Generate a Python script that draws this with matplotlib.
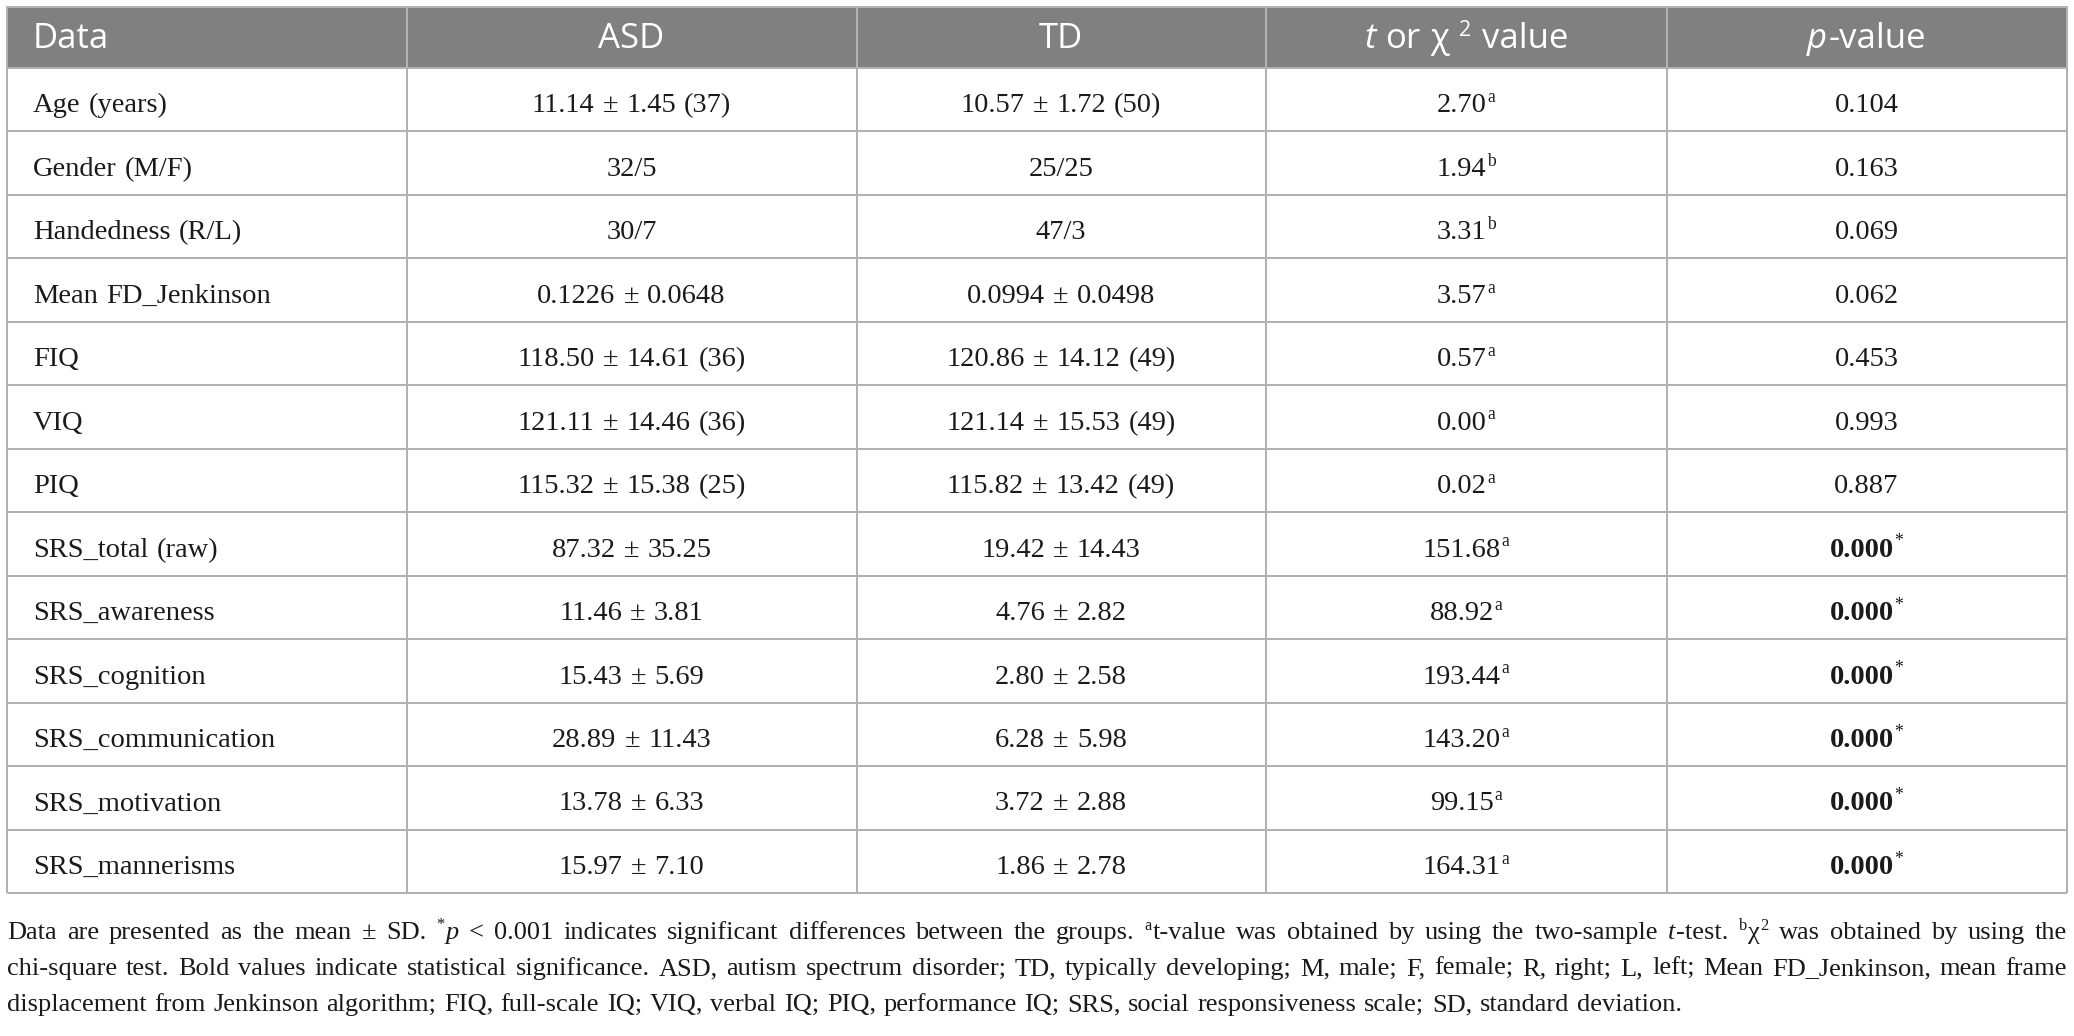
import re
import matplotlib
matplotlib.use("Agg")
from matplotlib import pyplot as plt
from matplotlib.patches import Rectangle

W, H = 2074, 1036
DPI = 100

# table content
header = ["Data", "ASD", "TD", "{i:t} or χ {s:2} value", "{i:p}-value"]
row_labels = ["Age (years)", "Gender (M/F)", "Handedness (R/L)", "Mean FD_Jenkinson",
              "FIQ", "VIQ", "PIQ", "SRS_total (raw)", "SRS_awareness", "SRS_cognition",
              "SRS_communication", "SRS_motivation", "SRS_mannerisms"]
asd_vals = ["11.14 ± 1.45 (37)", "32/5", "30/7", "0.1226 ± 0.0648", "118.50 ± 14.61 (36)",
            "121.11 ± 14.46 (36)", "115.32 ± 15.38 (25)", "87.32 ± 35.25", "11.46 ± 3.81",
            "15.43 ± 5.69", "28.89 ± 11.43", "13.78 ± 6.33", "15.97 ± 7.10"]
td_vals = ["10.57 ± 1.72 (50)", "25/25", "47/3", "0.0994 ± 0.0498", "120.86 ± 14.12 (49)",
           "121.14 ± 15.53 (49)", "115.82 ± 13.42 (49)", "19.42 ± 14.43", "4.76 ± 2.82",
           "2.80 ± 2.58", "6.28 ± 5.98", "3.72 ± 2.88", "1.86 ± 2.78"]
stat_vals = ["2.70", "1.94", "3.31", "3.57", "0.57", "0.00", "0.02", "151.68", "88.92",
             "193.44", "143.20", "99.15", "164.31"]
stat_test = ["a", "b", "b", "a", "a", "a", "a", "a", "a", "a", "a", "a", "a"]
p_vals = ["0.104", "0.163", "0.069", "0.062", "0.453", "0.993", "0.887", "0.000", "0.000",
          "0.000", "0.000", "0.000", "0.000"]
significant = [False] * 7 + [True] * 6

notes = [
    "Data are presented as the mean ± SD. {s:*}{i:p} < 0.001 indicates significant differences "
    "between the groups. {s:a}t-value was obtained by using the two-sample {i:t}-test. "
    "{s:b}χ{s:2} was obtained by using the",
    "chi-square test. Bold values indicate statistical significance. ASD, autism spectrum "
    "disorder; TD, typically developing; M, male; F, female; R, right; L, left; Mean "
    "FD_Jenkinson, mean frame",
    "displacement from Jenkinson algorithm; FIQ, full-scale IQ; VIQ, verbal IQ; PIQ, "
    "performance IQ; SRS, social responsiveness scale; SD, standard deviation.",
]

# geometry (pixels)
col_edges = [7, 407, 857, 1266, 1667, 2067]
head_top, head_bot, tab_bot = 7, 68, 893
row_h = (tab_bot - head_bot) / len(row_labels)
note_base = [939, 975, 1011]

SERIF = "Liberation Serif"
SANS = "Open Sans"
body = dict(family=SERIF, size=20.5, color="#1a1a1a")
head = dict(family=SANS, size=25, color="white")
foot = dict(family=SERIF, size=19, color="#1a1a1a")

fig = plt.figure(figsize=(W / DPI, H / DPI), dpi=DPI)
ax = fig.add_axes([0, 0, 1, 1])
ax.set_xlim(0, W)
ax.set_ylim(H, 0)
ax.axis("off")
renderer = fig.canvas.get_renderer()

_cache = {}


def measure(s, p):
    key = (s, tuple(sorted(p.items())))
    if key not in _cache:
        t = ax.text(0, 0, s, fontfamily=p["family"], fontsize=p["size"],
                    fontstyle=p.get("style", "normal"), fontweight=p.get("weight", "normal"))
        _cache[key] = t.get_window_extent(renderer).width
        t.remove()
    return _cache[key]


def segments(word, base):
    out = []
    for m in re.finditer(r"\{(\w):([^}]*)\}|([^{]+)", word):
        p = dict(base)
        rise = 0
        if m.group(3) is not None:
            txt = m.group(3)
        else:
            kind, txt = m.group(1), m.group(2)
            if kind == "i":
                p["style"] = "italic"
            elif kind == "b":
                p["weight"] = "bold"
            elif kind == "s":
                rise = base["size"] * 0.36 * DPI / 72
                p["size"] = base["size"] * 0.62
                p.pop("weight", None)
        out.append((txt, p, rise, measure(txt, p)))
    return out


def space_w(p):
    return measure("n n", p) - measure("nn", p)


def draw_words(words, x, y, sp):
    for segs in words:
        for txt, p, rise, w in segs:
            ax.text(x, y - rise, txt, fontfamily=p["family"], fontsize=p["size"],
                    fontstyle=p.get("style", "normal"), fontweight=p.get("weight", "normal"),
                    color=p["color"], ha="left", va="baseline")
            x += w + 1
        x += sp


def word_w(segs):
    return sum(s[3] + 1 for s in segs)


def put(s, x0, x1, y, base, align="center"):
    words = [segments(w, base) for w in s.split(" ")]
    sp = space_w(base)
    total = sum(word_w(w) for w in words) + sp * (len(words) - 1)
    if align == "center":
        x = (x0 + x1) / 2 - total / 2
    else:
        x = x0
    draw_words(words, x, y, sp)


def put_justified(s, x0, x1, y, base):
    words = [segments(w, base) for w in s.split(" ")]
    sp = (x1 - x0 - sum(word_w(w) for w in words)) / (len(words) - 1)
    draw_words(words, x0, y, sp)


# header band and grid
ax.add_patch(Rectangle((col_edges[0], head_top), col_edges[-1] - col_edges[0],
                       head_bot - head_top, facecolor="#808080", edgecolor="none"))
line_c = "#b2b2b2"
lw = 2 * 72 / DPI
for k in range(len(row_labels) + 1):
    yy = head_bot + k * row_h
    ax.plot([col_edges[0], col_edges[-1]], [yy, yy], color=line_c, lw=lw, solid_capstyle="butt")
ax.plot([col_edges[0], col_edges[-1]], [head_top, head_top], color=line_c, lw=lw)
for xx in col_edges:
    ax.plot([xx, xx], [head_top, tab_bot], color=line_c, lw=lw, solid_capstyle="butt")

# header text
put(header[0], col_edges[0] + 26, col_edges[1], 48, head, align="left")
for j in range(1, 5):
    put(header[j], col_edges[j], col_edges[j + 1], 48, head)

# body
for i in range(len(row_labels)):
    yb = head_bot + i * row_h + 0.70 * row_h
    put(row_labels[i], col_edges[0] + 26, col_edges[1], yb, body, align="left")
    put(asd_vals[i], col_edges[1], col_edges[2], yb, body)
    put(td_vals[i], col_edges[2], col_edges[3], yb, body)
    put(stat_vals[i] + "{s:" + stat_test[i] + "}", col_edges[3], col_edges[4], yb, body)
    if significant[i]:
        put("{b:" + p_vals[i] + "}{s:*}", col_edges[4], col_edges[5], yb, body)
    else:
        put(p_vals[i], col_edges[4], col_edges[5], yb, body)

# footnote
put_justified(notes[0], 7, 2068, note_base[0], foot)
put_justified(notes[1], 7, 2068, note_base[1], foot)
put(notes[2], 7, 2068, note_base[2], foot, align="left")

fig.savefig("out.png", dpi=DPI, facecolor="white")
